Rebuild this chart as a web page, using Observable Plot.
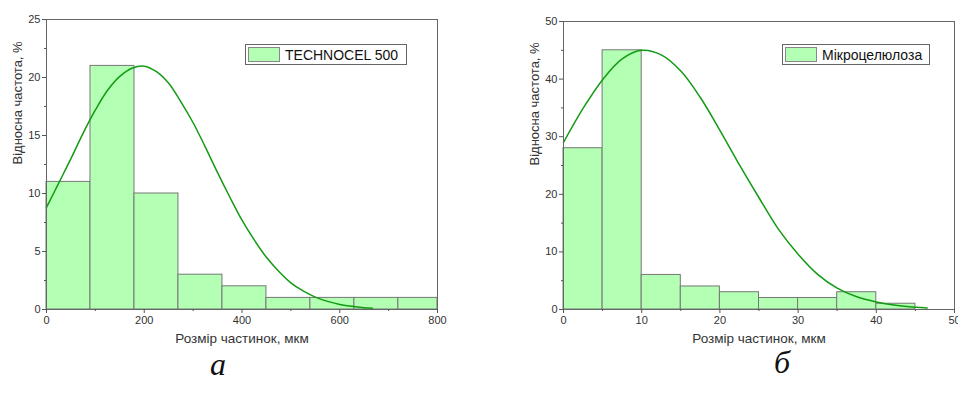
<!DOCTYPE html>
<html>
<head>
<meta charset="utf-8">
<script src="https://cdn.jsdelivr.net/npm/d3@7"></script>
<script src="https://cdn.jsdelivr.net/npm/@observablehq/plot@0.6"></script>
<style>
  html, body { margin: 0; padding: 0; background: #fff; overflow: hidden; }
  #wrap { position: relative; width: 958px; height: 398px; overflow: hidden; background: #fff; }
  .panel { position: absolute; top: 0; }
  .legend { position: absolute; box-sizing: border-box; height: 21px; border: 1px solid #666; background: #fff;
            font-family: "Liberation Sans", Arial, sans-serif; font-size: 14px; color: #111; display: flex; align-items: center; }
  .legend .sw { width: 32px; height: 15px; box-sizing: border-box; background: #b3ffb3; border: 1px solid #888; margin: 0 5px 0 2px; }
  .cap { position: absolute; font-family: "Liberation Serif", "Times New Roman", serif; font-style: italic; font-size: 32px; color: #111; transform: translate(-50%, 0); line-height: 1; }
</style>
</head>
<body>
<div id="wrap">
  <div class="panel" id="pa" style="left:0"></div>
  <div class="panel" id="pb" style="left:479px"></div>
</div>
<script>
// ---- data ----
const yLabel = "Відносна частота, %";
const xLabel = "Розмір частинок, мкм";
const captions = ["а", "б"];
const legendA = "TECHNOCEL 500";
const legendB = "Мікроцелюлоза";

// panel а
const binEdgesA = [0, 90, 180, 270, 360, 450, 540, 630, 720, 800];
const freqA = [11, 21, 10, 3, 2, 1, 1, 1, 1];
const curveXA = [0, 25, 50, 75, 100, 125, 150, 175, 200, 225, 250, 275, 300, 325, 350, 375, 400, 425, 450, 475, 500, 525, 550, 575, 600, 625, 650, 667];
const curveYA = [8.8, 10.9, 13.0, 15.2, 17.2, 18.9, 20.1, 20.8, 20.98, 20.5, 19.5, 17.9, 16.1, 14.0, 11.8, 9.7, 7.7, 6.0, 4.5, 3.3, 2.3, 1.6, 1.07, 0.70, 0.44, 0.27, 0.16, 0.11];
const xTicksA = [0, 200, 400, 600, 800];
const xMinorA = [100, 300, 500, 700];
const yTicksA = [0, 5, 10, 15, 20, 25];
const yMinorA = [2.5, 7.5, 12.5, 17.5, 22.5];

// panel б
const binEdgesB = [0, 5, 10, 15, 20, 25, 30, 35, 40, 45];
const freqB = [28, 45, 6, 4, 3, 2, 2, 3, 1];
const curveXB = [0, 2.5, 5, 7.5, 10, 12.5, 15, 17.5, 20, 22.5, 25, 27.5, 30, 32.5, 35, 37.5, 40, 42.5, 45, 46.5];
const curveYB = [29.0, 34.9, 39.9, 43.5, 45.0, 44.2, 41.4, 36.8, 31.1, 25.1, 19.4, 13.9, 9.6, 6.1, 3.7, 2.2, 1.3, 0.72, 0.37, 0.24];
const xTicksB = [0, 10, 20, 30, 40, 50];
const xMinorB = [5, 15, 25, 35, 45];
const yTicksB = [0, 10, 20, 30, 40, 50];
const yMinorB = [5, 15, 25, 35, 45];

function panel({edges, freq, cx, cy, xDomain, yDomain, xTicks, xMinor, yTicks, yMinor, marginLeft, marginRight, marginTop}) {
  const bars = freq.map((v, i) => ({x1: edges[i], x2: edges[i + 1], v}));
  const curve = cx.map((x, i) => ({x, y: cy[i]}));
  const tickStyle = {stroke: "#555"};
  return Plot.plot({
    width: 479,
    height: 350,
    marginLeft, marginRight, marginTop, marginBottom: 41,
    style: {fontFamily: "'Liberation Sans', Arial, sans-serif", fontSize: "11px", color: "#333", overflow: "visible", background: "transparent"},
    x: {domain: xDomain},
    y: {domain: yDomain},
    marks: [
      Plot.rectY(bars, {x1: "x1", x2: "x2", y: "v", fill: "#b3ffb3", stroke: "#777", strokeWidth: 1, insetLeft: 0, insetRight: 0}),
      Plot.line(curve, {x: "x", y: "y", stroke: "#129b12", strokeWidth: 1.5, curve: "catmull-rom"}),
      Plot.frame({stroke: "#666"}),
      Plot.axisX({ticks: xTicks, tickSize: 4, tickPadding: 3, label: null, ...tickStyle}),
      Plot.axisX({ticks: xMinor, tickSize: 2, tickFormat: () => "", label: null, ...tickStyle}),
      Plot.axisY({ticks: yTicks, tickSize: 4, tickPadding: 2, label: null, ...tickStyle}),
      Plot.axisY({ticks: yMinor, tickSize: 2, tickFormat: () => "", label: null, ...tickStyle}),
      Plot.text([xLabel], {frameAnchor: "bottom", dy: 33, text: d => d, fontSize: 13.5, fill: "#333"}),
      Plot.text([yLabel], {frameAnchor: "left", dx: -29, rotate: -90, text: d => d, fontSize: 13, fill: "#333"})
    ]
  });
}

document.getElementById("pa").append(panel({
  edges: binEdgesA, freq: freqA, cx: curveXA, cy: curveYA,
  xDomain: [0, 800], yDomain: [0, 25], xTicks: xTicksA, xMinor: xMinorA, yTicks: yTicksA, yMinor: yMinorA,
  marginLeft: 46, marginRight: 42, marginTop: 19
}));
document.getElementById("pb").append(panel({
  edges: binEdgesB, freq: freqB, cx: curveXB, cy: curveYB,
  xDomain: [0, 50], yDomain: [0, 50], xTicks: xTicksB, xMinor: xMinorB, yTicks: yTicksB, yMinor: yMinorB,
  marginLeft: 84, marginRight: 4, marginTop: 21
}));

const wrap = document.getElementById("wrap");
function addLegend(text, left, top, width) {
  const d = document.createElement("div");
  d.className = "legend";
  d.style.left = left + "px"; d.style.top = top + "px"; d.style.width = width + "px";
  const sw = document.createElement("div"); sw.className = "sw";
  const t = document.createElement("span"); t.textContent = text;
  d.append(sw, t);
  wrap.append(d);
}
addLegend(legendA, 245, 44, 162);
addLegend(legendB, 782, 44, 148);

function addCaption(text, cxPos, top) {
  const c = document.createElement("div");
  c.className = "cap"; c.textContent = text;
  c.style.left = cxPos + "px"; c.style.top = top + "px";
  wrap.append(c);
}
addCaption(captions[0], 218, 348);
addCaption(captions[1], 782, 346);
</script>
</body>
</html>
